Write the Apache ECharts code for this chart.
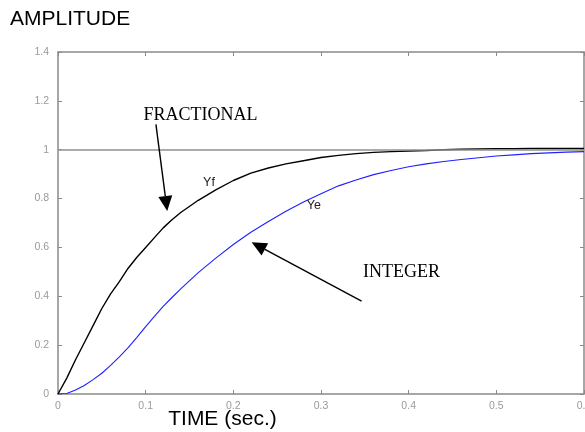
<!DOCTYPE html>
<html>
<head>
<meta charset="utf-8">
<script src="https://cdn.jsdelivr.net/npm/echarts@6/dist/echarts.min.js"></script>
<style>
html,body{margin:0;padding:0;background:#fff;}
#chart{width:585px;height:432px;}
</style>
</head>
<body>
<div id="chart"></div>
<script>
// ---- data ----
const timeValues = [0,0.01,0.02,0.03,0.04,0.05,0.06,0.07,0.08,0.09,0.10,0.11,0.12,0.13,0.14,0.16,0.18,0.20,0.22,0.24,0.26,0.28,0.30,0.32,0.34,0.36,0.38,0.40,0.42,0.44,0.46,0.48,0.50,0.52,0.54,0.56,0.58,0.60];
const yfValues = [0,0.065,0.14,0.21,0.28,0.35,0.41,0.46,0.515,0.56,0.60,0.64,0.68,0.713,0.743,0.793,0.836,0.874,0.904,0.925,0.942,0.955,0.968,0.977,0.984,0.989,0.992,0.995,0.997,1.0,1.002,1.003,1.004,1.004,1.005,1.005,1.005,1.005];
const yeValues = [0,0.002,0.016,0.035,0.059,0.085,0.117,0.152,0.19,0.232,0.276,0.318,0.359,0.395,0.43,0.497,0.556,0.612,0.662,0.706,0.748,0.786,0.82,0.852,0.876,0.898,0.915,0.93,0.942,0.952,0.96,0.967,0.974,0.979,0.984,0.987,0.99,0.992];
const xTicks = [0,0.1,0.2,0.3,0.4,0.5,0.6];
const yTicks = [0,0.2,0.4,0.6,0.8,1,1.2,1.4];
const referenceLevel = 1;
const titleText = 'AMPLITUDE';
const xAxisTitle = 'TIME (sec.)';
// annotation anchors in data units (time, amplitude)
const annotationTexts = [
  {text:'FRACTIONAL', at:[0.1625,1.143], serif:true},
  {text:'INTEGER', at:[0.3917,0.4965], serif:true},
  {text:'Yf', at:[0.1722,0.865], serif:false},
  {text:'Ye', at:[0.2919,0.771], serif:false}
];
const annotationArrows = [
  {from:[0.1117,1.104], to:[0.1246,0.749]},
  {from:[0.3463,0.380], to:[0.2209,0.621]}
];
const xTitleAt = 0.1876;

const chart = echarts.init(document.getElementById('chart'), null, {renderer:'canvas'});
const axisColor = '#8a8a8a';
const labelColor = '#9a9a9a';
const xMin = xTicks[0], xMax = xTicks[xTicks.length-1];
const yMin = yTicks[0], yMax = yTicks[yTicks.length-1];
const xInt = xTicks[1]-xTicks[0], yInt = yTicks[1]-yTicks[0];

function axisBase(show){
  return {
    axisLine:{show:true, onZero:false, lineStyle:{color:axisColor, width:1.5}},
    axisTick:{show:true, inside:true, length:4, lineStyle:{color:axisColor, width:1}},
    axisLabel:{show:show, color:labelColor, fontSize:10.5, fontFamily:'Liberation Sans, Arial, sans-serif'},
    splitLine:{show:false}
  };
}

const option = {
  animation:false,
  backgroundColor:'#fff',
  grid:{left:58, right:1, top:52, bottom:38, containLabel:false, outerBoundsMode:'none'},
  title:{
    text:titleText, left:5, top:4,
    textStyle:{fontFamily:'Liberation Sans, Arial, sans-serif', fontWeight:'normal', fontSize:21, color:'#000'}
  },
  xAxis:[
    Object.assign({type:'value', min:xMin, max:xMax, interval:xInt, position:'bottom'}, axisBase(true), {
      axisLabel:{show:true, color:labelColor, fontSize:10.5, margin:7, fontFamily:'Liberation Sans, Arial, sans-serif'}
    }),
    Object.assign({type:'value', min:xMin, max:xMax, interval:xInt, position:'top'}, axisBase(false))
  ],
  yAxis:[
    Object.assign({type:'value', min:yMin, max:yMax, interval:yInt, position:'left'}, axisBase(true), {
      axisLabel:{show:true, color:labelColor, fontSize:10.5, margin:9, fontFamily:'Liberation Sans, Arial, sans-serif'}
    }),
    Object.assign({type:'value', min:yMin, max:yMax, interval:yInt, position:'right'}, axisBase(false))
  ],
  series:[
    {
      name:'Ye', type:'line', showSymbol:false, symbol:'none',
      data: timeValues.map((t,i)=>[t, yeValues[i]]),
      lineStyle:{color:'#2020ff', width:1.1},
      z:3,
      markLine:{
        silent:true, symbol:['none','none'], label:{show:false},
        lineStyle:{color:'#909090', type:'solid', width:1.5},
        data:[{yAxis:referenceLevel}]
      }
    },
    {
      name:'Yf', type:'line', showSymbol:false, symbol:'none',
      data: timeValues.map((t,i)=>[t, yfValues[i]]),
      lineStyle:{color:'#000', width:1.4},
      z:4
    }
  ]
};
chart.setOption(option);

// annotations placed through the chart's own scales
const toPx = (p)=>chart.convertToPixel({gridIndex:0}, p);
const graphics = [];
annotationTexts.forEach(a=>{
  const p = toPx(a.at);
  graphics.push({
    type:'text', x:p[0], y:p[1], z:10,
    style:{
      text:a.text, align:'center', verticalAlign:'middle',
      fontFamily: a.serif ? 'Liberation Serif, Times New Roman, serif' : 'Liberation Sans, Arial, sans-serif',
      fontSize: a.serif ? 18 : 12.5,
      fill: a.serif ? '#000' : '#222'
    }
  });
});
annotationArrows.forEach(a=>{
  const s = toPx(a.from), e = toPx(a.to);
  const dx = e[0]-s[0], dy = e[1]-s[1];
  const len = Math.sqrt(dx*dx+dy*dy);
  const ux = dx/len, uy = dy/len;
  const headLen = 15, headHalf = 7;
  const bx = e[0]-ux*headLen, by = e[1]-uy*headLen;
  graphics.push({
    type:'line', z:10,
    shape:{x1:s[0], y1:s[1], x2:bx, y2:by},
    style:{stroke:'#000', lineWidth:1.4}
  });
  graphics.push({
    type:'polygon', z:10,
    shape:{points:[[e[0],e[1]],[bx - uy*headHalf, by + ux*headHalf],[bx + uy*headHalf, by - ux*headHalf]]},
    style:{fill:'#000'}
  });
});
// x-axis title
const xt = toPx([xTitleAt, 0]);
graphics.push({
  type:'text', x:xt[0], y:430, z:10,
  style:{text:xAxisTitle, align:'center', verticalAlign:'bottom', fontFamily:'Liberation Sans, Arial, sans-serif', fontSize:21, fill:'#000'}
});
chart.setOption({graphic:graphics});
</script>
</body>
</html>
